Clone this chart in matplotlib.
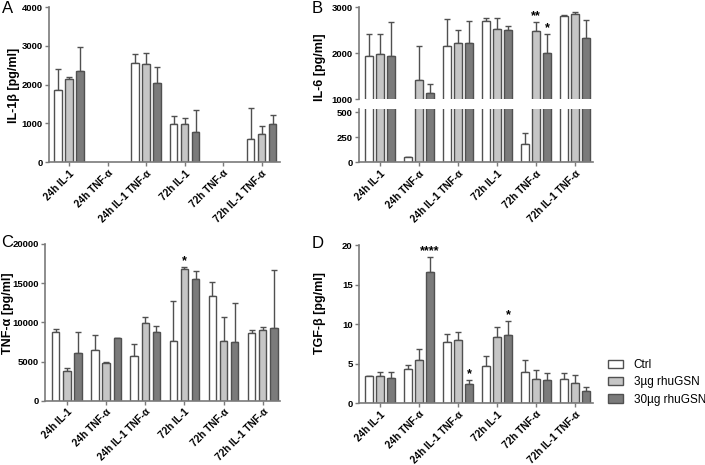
import numpy as np
import matplotlib
matplotlib.use("Agg")
from matplotlib import pyplot as plt
from matplotlib.patches import Patch

plt.rcParams['font.family'] = ['Liberation Sans', 'DejaVu Sans']

nan = np.nan
groups = ['24h IL-1', '24h TNF-α', '24h IL-1 TNF-α', '72h IL-1', '72h TNF-α', '72h IL-1 TNF-α']
series = ['Ctrl', '3µg rhuGSN', '30µg rhuGSN']

## A - IL-1beta
a_ctrl = [1860, nan, 2560, 980, nan, 600]
a_ctrl_sd = [540, nan, 215, 220, nan, 795]
a_3 = [2130, nan, 2535, 975, nan, 710]
a_3_sd = [70, nan, 275, 155, nan, 215]
a_30 = [2350, nan, 2030, 770, nan, 975]
a_30_sd = [620, nan, 430, 565, nan, 230]

## B - IL-6
b_ctrl = [1940, 56, 2160, 2700, 187, 2815]
b_ctrl_sd = [490, 0, 595, 65, 110, 15]
b_3 = [1995, 1415, 2215, 2530, 2490, 2855]
b_3_sd = [430, 745, 295, 245, 185, 50]
b_30 = [1940, 1135, 2230, 2510, 2005, 2340]
b_30_sd = [735, 190, 470, 80, 410, 390]

## C - TNF-alpha
c_ctrl = [8770, 6470, 5700, 7620, 13360, 8640]
c_ctrl_sd = [380, 1960, 1575, 5100, 1745, 340]
c_3 = [3790, 4770, 9915, 16770, 7620, 8980]
c_3_sd = [425, 210, 810, 255, 3020, 380]
c_30 = [6130, 7960, 8770, 15570, 7530, 9280]
c_30_sd = [2640, 0, 810, 940, 4935, 7400]

## D - TGF-beta
d_ctrl = [3.41, 4.34, 7.75, 4.63, 3.96, 3.07]
d_ctrl_sd = [0, 0.5, 1.01, 1.31, 1.51, 0.72]
d_3 = [3.45, 5.47, 7.92, 8.38, 3.07, 2.48]
d_3_sd = [0.42, 1.35, 1.01, 1.18, 1.06, 1.06]
d_30 = [3.16, 16.55, 2.40, 8.59, 2.91, 1.52]
d_30_sd = [0.71, 1.89, 0.51, 1.81, 0.88, 0.5]

# significancia: (grupo, serie, texto)
b_stars = [(4, 1, '**'), (4, 2, '*')]
c_stars = [(3, 1, '*')]
d_stars = [(1, 2, '****'), (2, 2, '*'), (3, 2, '*')]

colores = ['white', '#c6c6c6', '#7b7b7b']
borde = '#505050'
eje = '#7a7a7a'
W = 0.19
OFF = 0.285
x = np.arange(len(groups))


def barras(ax, vals, sds):
  for i, (v, s) in enumerate(zip(vals, sds)):
    v = np.array(v, dtype=float)
    s = np.array(s, dtype=float)
    ax.bar(x + (i - 1) * OFF, v, W, color=colores[i], edgecolor=borde, linewidth=1.0, zorder=2)
    ax.errorbar(x + (i - 1) * OFF, v, yerr=[np.zeros_like(s), s], fmt='none',
                ecolor=borde, elinewidth=1.0, capsize=2, capthick=1.0, zorder=1)


def estrellas(ax, stars, vals, sds):
  for g, sidx, lab in stars:
    top = vals[sidx][g] + sds[sidx][g]
    ax.text(x[g] + (sidx - 1) * OFF, top, lab, ha='center', va='bottom',
            fontsize=9, fontweight='bold')


def estilo(ax, xl, bottom=True):
  ax.set_xlim(*xl)
  for sp in ['top', 'right']:
    ax.spines[sp].set_visible(False)
  for sp in ['left', 'bottom']:
    ax.spines[sp].set_color(eje)
    ax.spines[sp].set_linewidth(1.2)
  ax.tick_params(axis='both', colors=eje, length=3, width=1, labelcolor='black', pad=1.5)
  ax.tick_params(axis='y', labelsize=6.8)
  for t in ax.get_yticklabels():
    t.set_fontweight('bold')
  ax.set_xticks(x)
  if bottom:
    ax.set_xticklabels(groups, rotation=45, ha='right', rotation_mode='anchor',
                       fontsize=7.2, fontweight='bold')


fig = plt.figure(figsize=(7.05, 4.65), dpi=100)

# Panel A
axA = fig.add_axes([0.0695, 0.6516, 0.3277, 0.3333])
barras(axA, [a_ctrl, a_3, a_30], [a_ctrl_sd, a_3_sd, a_30_sd])
axA.set_ylim(0, 4000)
axA.set_yticks([0, 1000, 2000, 3000, 4000])
estilo(axA, (-0.52, 5.48))

# Panel B (eje cortado)
axBu = fig.add_axes([0.5092, 0.7865, 0.3319, 0.1978])
axBl = fig.add_axes([0.5092, 0.651, 0.3319, 0.1146])
for ax in (axBu, axBl):
  barras(ax, [b_ctrl, b_3, b_30], [b_ctrl_sd, b_3_sd, b_30_sd])
axBu.set_ylim(1000, 3000)
axBu.set_yticks([1000, 2000, 3000])
axBl.set_ylim(0, 533)
axBl.set_yticks([0, 250, 500])
estilo(axBu, (-0.54, 5.46), bottom=False)
estilo(axBl, (-0.54, 5.46))
axBu.spines['bottom'].set_visible(False)
axBu.tick_params(axis='x', length=0, labelbottom=False)
estrellas(axBu, b_stars, [b_ctrl, b_3, b_30], [b_ctrl_sd, b_3_sd, b_30_sd])

# Panel C
axC = fig.add_axes([0.0638, 0.1383, 0.3333, 0.337])
barras(axC, [c_ctrl, c_3, c_30], [c_ctrl_sd, c_3_sd, c_30_sd])
axC.set_ylim(0, 20000)
axC.set_yticks([0, 5000, 10000, 15000, 20000])
estilo(axC, (-0.56, 5.44))
estrellas(axC, c_stars, [c_ctrl, c_3, c_30], [c_ctrl_sd, c_3_sd, c_30_sd])

# Panel D
axD = fig.add_axes([0.5092, 0.1333, 0.3319, 0.3398])
barras(axD, [d_ctrl, d_3, d_30], [d_ctrl_sd, d_3_sd, d_30_sd])
axD.set_ylim(0, 20)
axD.set_yticks([0, 5, 10, 15, 20])
estilo(axD, (-0.54, 5.46))
estrellas(axD, d_stars, [d_ctrl, d_3, d_30], [d_ctrl_sd, d_3_sd, d_30_sd])

# titulos de eje y
kw = dict(rotation=90, ha='center', va='center', fontsize=9, fontweight='bold')
fig.text(0.020, 0.817, 'IL-1β [pg/ml]', **kw)
fig.text(0.454, 0.856, 'IL-6 [pg/ml]', **kw)
fig.text(0.011, 0.327, 'TNF-α [pg/ml]', **kw)
fig.text(0.454, 0.327, 'TGF-β [pg/ml]', **kw)

# letras de panel
fig.text(0.003, 0.998, 'A', fontsize=12, va='top')
fig.text(0.442, 0.998, 'B', fontsize=12, va='top')
fig.text(0.002, 0.494, 'C', fontsize=12, va='top')
fig.text(0.442, 0.492, 'D', fontsize=12, va='top')

handles = [Patch(facecolor=colores[i], edgecolor=borde, linewidth=1.0) for i in range(3)]
fig.legend(handles, series, loc='center left', bbox_to_anchor=(0.862, 0.178),
           frameon=False, fontsize=8.5, handlelength=1.3, handleheight=0.7,
           handletextpad=0.9, labelspacing=0.45, borderaxespad=0, borderpad=0)

fig.savefig('out.png', dpi=100)
